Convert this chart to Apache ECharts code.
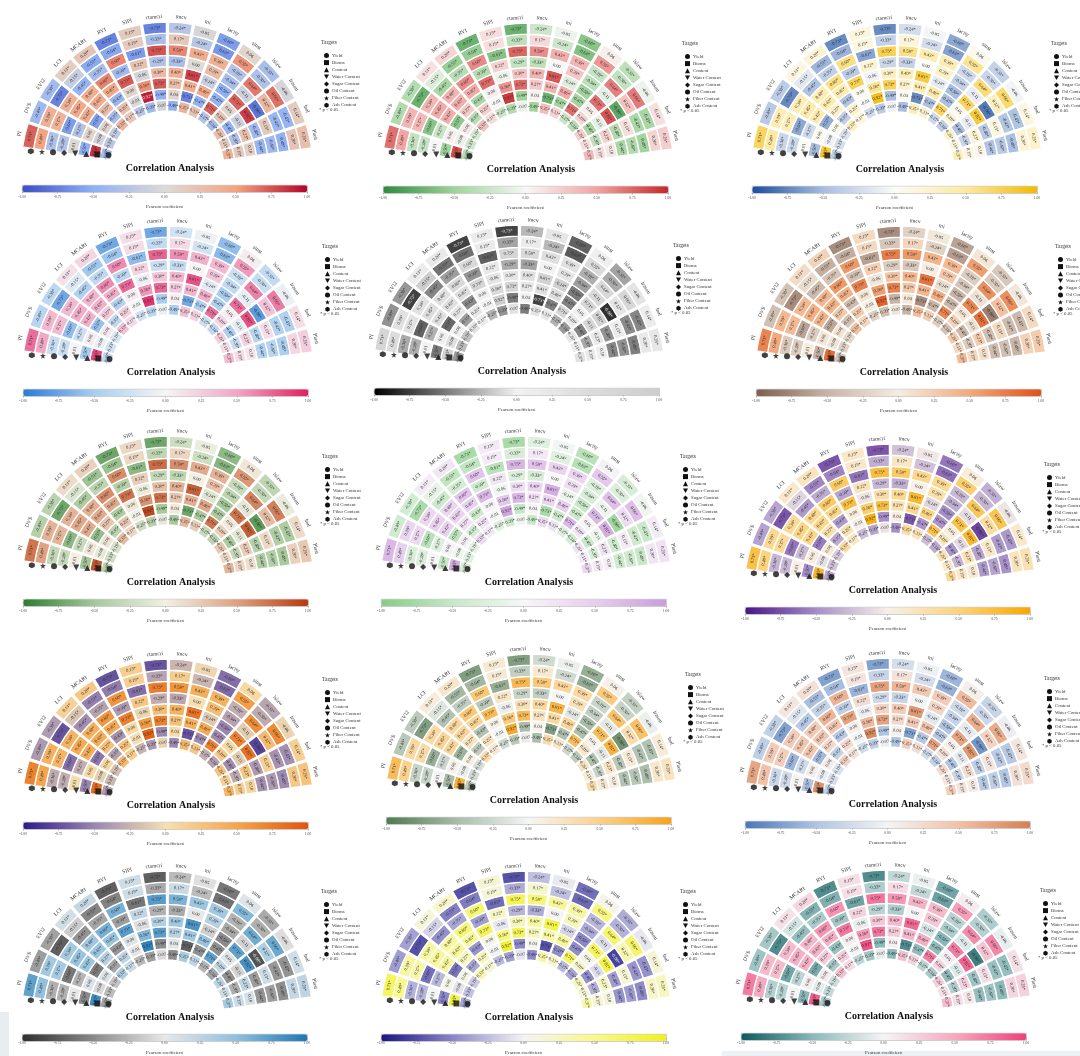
<!DOCTYPE html>
<html>
<head>
<meta charset="utf-8">
<title>Correlation Analysis</title>
<script src="https://cdn.jsdelivr.net/npm/echarts@6.0.0/dist/echarts.min.js"></script>
<style>
  html, body { margin: 0; padding: 0; background: #fff; }
  #chart { width: 1080px; height: 1056px; }
</style>
</head>
<body>
<div id="chart"></div>
<script>
// vegetation indices, clockwise from the left end of the fan
const columns = ['PI', 'DVS', 'EVI2', 'LCI', 'MCARI', 'RVI', 'SIPI', 'ctamcri',
  'tmcv', 'mi', 'lacity', 'sinst', 'lslaw', 'lrasen', 'lnal', 'Plast'];

// targets, inner ring first
const targets = ['Yield', 'Bioms', 'Content', 'Water Content', 'Sugar Content',
  'Oil Content', 'Fiber Content', 'Ash Content'];

// pearson r of each target with the columns above
const corrYield  = [-0.37, -0.23, -0.19, 0.33, 0.17, -0.25, -0.39, -0.07, -0.49, 0.35, 0.22, -0.27, -0.36, 0.25, 0.15, 0.37];
const corrBioms  = [0.85, -0.08, 0.08, -0.35, 0.25, -0.01, 0.92, -0.49, 0.04, -0.73, -0.47, 0.71, 0.20, -0.46, -0.30, 0.15];
const corrContent = [-0.50, 0.06, -0.57, 0.27, -0.43, 0.06, 0.56, 0.73, 0.27, 0.41, 0.46, -0.47, 0.05, -0.11, 0.23, 0.10];
const corrWater  = [0.01, -0.27, 0.43, 0.43, 0.45, 0.73, -0.06, 0.30, 0.40, 0.81, -0.14, -0.50, 0.71, 0.82, -0.40, -0.44];
const corrSugar  = [-0.28, -0.60, 0.45, 0.40, 0.60, -0.39, 0.22, -0.29, -0.33, 0.00, 0.29, -0.34, -0.11, -0.80, 0.15, -0.40];
const corrOil    = [-0.30, 0.37, 0.38, -0.45, -0.35, 0.60, -0.61, 0.75, 0.59, 0.43, 0.39, -0.28, 0.64, 0.32, -0.43, -0.48];
const corrFiber  = [0.49, 0.39, -0.73, -0.15, -0.53, -0.54, 0.15, -0.33, 0.17, -0.24, -0.63, 0.55, -0.30, 0.66, -0.45, 0.20];
const corrAsh    = [0.71, -0.40, -0.38, 0.13, 0.20, -0.73, 0.15, -0.73, -0.24, -0.05, -0.60, 0.06, -0.33, -0.06, 0.14, 0.25];
const corrByTarget = [corrYield, corrBioms, corrContent, corrWater, corrSugar, corrOil, corrFiber, corrAsh];

const colorbarRange = [-1, 1];
const colorbarStep = 0.25;
const sigLevel = 0.12;

const HEX = 'path://M5,0L9.33,2.5L9.33,7.5L5,10L0.67,7.5L0.67,2.5Z';
const STAR = 'path://M5,0L6.2,3.6L10,3.6L6.9,5.9L8.1,9.5L5,7.3L1.9,9.5L3.1,5.9L0,3.6L3.8,3.6Z';
const INVTRI = 'path://M0,0L10,0L5,9Z';
const targetSymbols = ['circle', 'rect', 'triangle', INVTRI, 'diamond', 'circle', STAR, HEX];

// one colour ramp per panel, left to right, top to bottom
const palettes = [
  ['#3a4fc4', '#8fb0f5', '#dedad6', '#f3a481', '#b40426'],
  ['#2f8a3e', '#9fd39b', '#f7f7f7', '#f2a2a0', '#c62828'],
  ['#1c4e9c', '#a7bde0', '#fbfbf8', '#fde9a0', '#f5b800'],
  ['#2c7bd6', '#a9cdf0', '#f5f5f5', '#f2a6c4', '#e0205f'],
  ['#000000', '#7a7a7a', '#f2f2f2', '#dcdcdc', '#cdcdcd'],
  ['#7d5f50', '#c8b4a6', '#f5ede0', '#f2a97a', '#e0501a'],
  ['#2e7d32', '#a5c89a', '#f2f0e4', '#e0a080', '#b83a0e'],
  ['#86cc86', '#c6e8c6', '#f7f7f7', '#e8cdef', '#c99ddb'],
  ['#4a1486', '#a58ec8', '#f7f0e8', '#fdd27a', '#f6a800'],
  ['#2c1a8a', '#9a86b0', '#f6e0b0', '#f5a54a', '#e0540e'],
  ['#4f7a4f', '#a9bca9', '#f5f5f5', '#fbd08a', '#f5a21a'],
  ['#4a78b8', '#b0c4e2', '#f4f4f4', '#f2c0a6', '#d48050'],
  ['#2f2f2f', '#8a8a8a', '#e8e8e8', '#8fc0de', '#1f77b4'],
  ['#1a1580', '#8a86c8', '#f4f4f4', '#f8f88a', '#f0f020'],
  ['#0e5a5e', '#8ab8b8', '#f5f5f5', '#f5a8c0', '#f0407a']
];

// top-left corner of each panel's colour bar
const panelAnchors = [
  [22, 185], [383, 186], [752, 186],
  [23, 389], [374, 388], [756, 389],
  [23, 599], [381, 599], [745, 607],
  [23, 822], [386, 817], [745, 821],
  [22, 1034], [381, 1034], [741, 1033]
];

const FONT = 'Liberation Serif';
const CB_LEN = 285;
const CB_H = 7;
const START_ANGLE = 182.4;

// 35 equal slots round the circle: one for the marker column, 16 for data, rest empty
const angleCats = ['sym'].concat(columns);
while (angleCats.length < 35) angleCats.push('pad' + angleCats.length);

function fmt(v) {
  return v.toFixed(2) + (Math.abs(v) >= sigLevel ? '*' : '');
}

function labelColor(pal, v) {
  const c = echarts.color.parse(echarts.color.lerp((v + 1) / 2, pal));
  const lum = (0.299 * c[0] + 0.587 * c[1] + 0.114 * c[2]) / 255;
  return lum < 0.33 ? '#f0f0f0' : '#2a2a2a';
}

const chart = echarts.init(document.getElementById('chart'), null, { renderer: 'canvas' });

const polar = [], angleAxis = [], radiusAxis = [], grid = [], xAxis = [], yAxis = [];
const visualMap = [], legend = [], series = [], graphic = [];

panelAnchors.forEach(([bx, by], p) => {
  const pal = palettes[p];
  const cx = bx + 145;
  const cy = by - 17;

  polar.push({ center: [cx, cy], radius: [57, 157] });
  angleAxis.push({
    polarIndex: p, type: 'category', data: angleCats, startAngle: START_ANGLE,
    axisLine: { show: false }, axisTick: { show: false },
    axisLabel: { show: false }, splitLine: { show: false }
  });
  radiusAxis.push({
    polarIndex: p, type: 'value', min: 0, max: 9,
    axisLine: { show: false }, axisTick: { show: false },
    axisLabel: { show: false }, splitLine: { show: false }
  });

  const ringIdx = [];
  targets.forEach((name, t) => {
    ringIdx.push(series.length);
    series.push({
      type: 'bar', name, coordinateSystem: 'polar', polarIndex: p,
      stack: 'fan' + p,
      dimensions: ['col', 'size', 'r'],
      encode: { angle: 0, radius: 1 },
      barCategoryGap: '8%',
      data: columns.map((c, j) => ({
        value: [c, 1, corrByTarget[t][j]],
        label: { color: labelColor(pal, corrByTarget[t][j]) }
      })),
      itemStyle: { borderColor: '#fff', borderWidth: 1.3 },
      label: {
        show: true, position: 'middle', fontSize: 4.5, fontFamily: FONT,
        formatter: (d) => fmt(d.value[2])
      },
      emphasis: { disabled: true },
      silent: true
    });
  });

  // outer ring carrying the column names
  series.push({
    type: 'bar', name: 'names', coordinateSystem: 'polar', polarIndex: p,
    stack: 'fan' + p,
    dimensions: ['col', 'size', 'r'],
    encode: { angle: 0, radius: 1 },
    barCategoryGap: '8%',
    data: columns.map((c) => [c, 1, 0]),
    itemStyle: { color: 'rgba(0,0,0,0)' },
    label: {
      show: true, position: 'middle', fontSize: 5.5, fontFamily: FONT, color: '#333',
      formatter: (d) => d.value[0]
    },
    emphasis: { disabled: true },
    silent: true
  });

  // target markers under the first column
  series.push({
    type: 'scatter', name: 'markers', coordinateSystem: 'polar', polarIndex: p,
    dimensions: ['col', 'ring'],
    encode: { angle: 0, radius: 1 },
    data: targets.map((n, t) => ({ value: ['sym', t + 0.5], symbol: targetSymbols[t] })),
    symbolSize: 6,
    symbolOffset: [4, -10],
    itemStyle: { color: '#111' },
    silent: true
  });

  visualMap.push({
    type: 'continuous', min: colorbarRange[0], max: colorbarRange[1],
    dimension: 2, seriesIndex: ringIdx,
    orient: 'horizontal', left: bx, top: by,
    itemWidth: CB_H, itemHeight: CB_LEN,
    calculable: false, realtime: false, hoverLink: false,
    padding: 0, borderColor: '#999', borderWidth: 0.6,
    inRange: { color: pal },
    textStyle: { fontSize: 1, color: 'rgba(0,0,0,0)' }
  });

  grid.push({ left: bx, top: by, width: CB_LEN, height: CB_H });
  xAxis.push({
    gridIndex: p, type: 'value', min: colorbarRange[0], max: colorbarRange[1],
    interval: colorbarStep,
    axisLine: { show: false }, splitLine: { show: false },
    axisTick: { show: true, length: 1.5, lineStyle: { color: '#777', width: 0.5 } },
    axisLabel: {
      fontSize: 3.6, fontFamily: FONT, color: '#444', margin: 3,
      formatter: (v) => v.toFixed(2)
    },
    name: 'Pearson coefficient', nameLocation: 'middle', nameGap: 12,
    nameTextStyle: { fontSize: 4.8, fontFamily: FONT, color: '#333' }
  });
  yAxis.push({ gridIndex: p, type: 'value', show: false });

  legend.push({
    orient: 'vertical', left: bx + 297, top: by - 137,
    itemWidth: 5, itemHeight: 5, itemGap: 2.1,
    selectedMode: false,
    data: targets.map((n, t) => ({ name: n, icon: targetSymbols[t] })),
    itemStyle: { color: '#111', borderWidth: 0 },
    textStyle: { fontSize: 4.8, fontFamily: FONT, color: '#333', padding: [0, 0, 0, -2] }
  });

  graphic.push(
    {
      type: 'text', x: bx + 148, y: cy, silent: true,
      style: {
        text: 'Correlation Analysis', fill: '#111', align: 'center', verticalAlign: 'middle',
        font: 'bold 10px "Liberation Serif"'
      }
    },
    {
      type: 'text', x: bx + 299, y: by - 142, silent: true,
      style: { text: 'Targets', fill: '#333', verticalAlign: 'middle', font: '5.5px "Liberation Serif"' }
    },
    {
      type: 'text', x: bx + 297, y: by - 75, silent: true,
      style: { text: '* p < 0.05', fill: '#333', verticalAlign: 'middle', font: '4.8px "Liberation Serif"' }
    }
  );
});

// light strips left at the edges of the collage
graphic.push(
  { type: 'rect', shape: { x: 0, y: 1012, width: 9, height: 44 }, style: { fill: '#e7edf1' }, silent: true },
  { type: 'rect', shape: { x: 722, y: 1051, width: 358, height: 5 }, style: { fill: '#eef1f3' }, silent: true }
);

chart.setOption({
  animation: false,
  backgroundColor: '#fff',
  polar, angleAxis, radiusAxis, grid, xAxis, yAxis,
  visualMap, legend, series, graphic
});
</script>
</body>
</html>
